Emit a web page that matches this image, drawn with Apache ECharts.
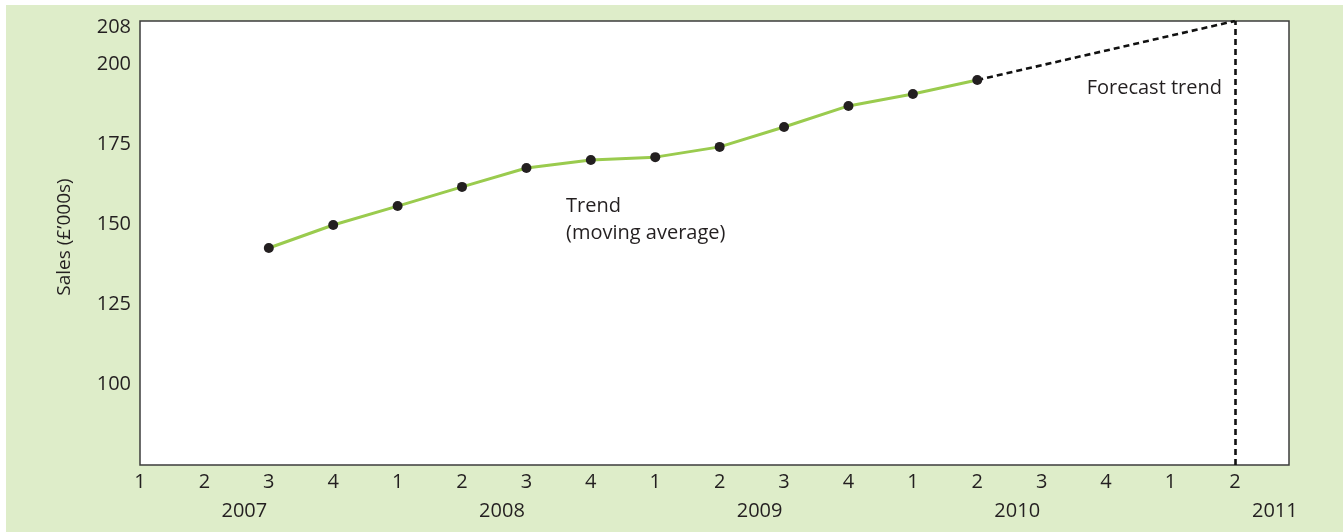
<!DOCTYPE html>
<html>
<head>
<meta charset="utf-8">
<script src="https://cdn.jsdelivr.net/npm/echarts@6/dist/echarts.min.js"></script>
<style>
  html, body { margin: 0; padding: 0; background: #ffffff; }
  #bg { position: absolute; left: 6px; top: 5px; right: 0; bottom: 0; background: #deedc9; }
  #chart { position: absolute; left: 0; top: 0; width: 1343px; height: 532px; }
</style>
</head>
<body>
<div id="bg"></div>
<div id="chart"></div>
<script>
// ---- data ----
const quarterLabels = ['1','2','3','4','1','2','3','4','1','2','3','4','1','2','3','4','1','2'];
const yearLabels = ['2007','2008','2009','2010','2011'];
const trendStartIndex = 2; // 2007 Q3
const trendValues = [142.5, 149.7, 155.6, 161.6, 167.5, 170.0, 170.9, 174.1, 180.3, 186.9, 190.6, 195.0];
const forecastIndices = [13, 17]; // 2010 Q2 -> 2011 Q2
const forecastValues = [195.0, 208];
const yTickValues = [100, 125, 150, 175, 200];
const forecastTickValues = [208];
const yAxisTitle = 'Sales (£’000s)';
const trendText = 'Trend\n(moving average)';
const forecastText = 'Forecast trend';

// ---- layout / scales ----
const xMin = 0, xMax = 17.84;
const yMin = 74.69, yMax = 213.44;
// secondary scale for forecast: same pixel for start value, end value at top
const startVal = forecastValues[0], endVal = forecastValues[1];
const frac = (yMax - startVal) / (yMax - yMin);
const y2Max = endVal;
const y2Min = endVal - (endVal - startVal) / frac;

const trendData = trendValues.map((v, i) => [trendStartIndex + i, v]);
const forecastData = forecastIndices.map((x, i) => [x, forecastValues[i]]);
const yearPositions = yearLabels.map((y, k) => 4 * k + 1.62);

const textColor = '#231f20';
const font = 'Open Sans';

const chart = echarts.init(document.getElementById('chart'), null, { renderer: 'canvas' });
chart.setOption({
  backgroundColor: 'transparent',
  animation: false,
  textStyle: { fontFamily: font, color: textColor },
  grid: {
    left: 140, top: 21, right: 54, bottom: 67,
    show: true, backgroundColor: '#ffffff', borderColor: '#3c3c3c', borderWidth: 1.5,
    outerBoundsMode: 'none'
  },
  xAxis: [
    {
      type: 'value', min: xMin, max: xMax, position: 'bottom',
      axisLine: { show: false }, axisTick: { show: false }, splitLine: { show: false },
      axisLabel: {
        customValues: quarterLabels.map((q, i) => i),
        formatter: v => quarterLabels[Math.round(v)],
        margin: 7, fontSize: 20, fontFamily: font, color: textColor
      }
    },
    {
      type: 'value', min: xMin, max: xMax, position: 'bottom', offset: 29,
      axisLine: { show: false }, axisTick: { show: false }, splitLine: { show: false },
      axisLabel: {
        customValues: yearPositions,
        formatter: v => {
          const k = yearPositions.findIndex(p => Math.abs(p - v) < 1e-6);
          return k >= 0 ? yearLabels[k] : '';
        },
        margin: 7, fontSize: 20, fontFamily: font, color: textColor
      }
    }
  ],
  yAxis: [
    {
      type: 'value', min: yMin, max: yMax, position: 'left',
      name: yAxisTitle, nameLocation: 'middle', nameGap: 66, nameRotate: 90,
      nameTextStyle: { fontSize: 19, fontFamily: font, color: textColor, padding: [0, 0, 0, 12] },
      axisLine: { show: false }, axisTick: { show: false }, splitLine: { show: false },
      axisLabel: {
        customValues: yTickValues,
        margin: 9, fontSize: 20, fontFamily: font, color: textColor
      }
    },
    {
      type: 'value', min: y2Min, max: y2Max, position: 'left',
      axisLine: { show: false }, axisTick: { show: false }, splitLine: { show: false },
      axisLabel: {
        customValues: forecastTickValues,
        margin: 9, fontSize: 20, fontFamily: font, color: textColor,
        formatter: v => '{t|' + v + '}',
        rich: { t: { fontSize: 20, fontFamily: font, color: textColor, padding: [12, 0, 0, 0] } }
      }
    }
  ],
  series: [
    {
      name: 'Forecast', type: 'line', xAxisIndex: 0, yAxisIndex: 1,
      data: forecastData, symbol: 'none', silent: true,
      lineStyle: { color: '#111111', width: 2.6, type: [6, 4] },
      markLine: {
        silent: true, symbol: 'none', label: { show: false },
        lineStyle: { color: '#111111', width: 2.6, type: [6, 4] },
        data: [{ xAxis: forecastIndices[1] }]
      },
      z: 2
    },
    {
      name: 'Trend', type: 'line', xAxisIndex: 0, yAxisIndex: 0,
      data: trendData, symbol: 'circle', symbolSize: 10, showSymbol: true,
      itemStyle: { color: '#231f20' },
      lineStyle: { color: '#9acb4e', width: 3 },
      z: 3
    }
  ],
  graphic: [
    {
      type: 'text', left: 566, top: 193,
      style: { text: trendText, fontSize: 20, fontFamily: font, fill: textColor, lineHeight: 27 }
    },
    {
      type: 'text', right: 1343 - 1222, top: 78,
      style: { text: forecastText, fontSize: 20, fontFamily: font, fill: textColor }
    }
  ]
});
</script>
</body>
</html>
